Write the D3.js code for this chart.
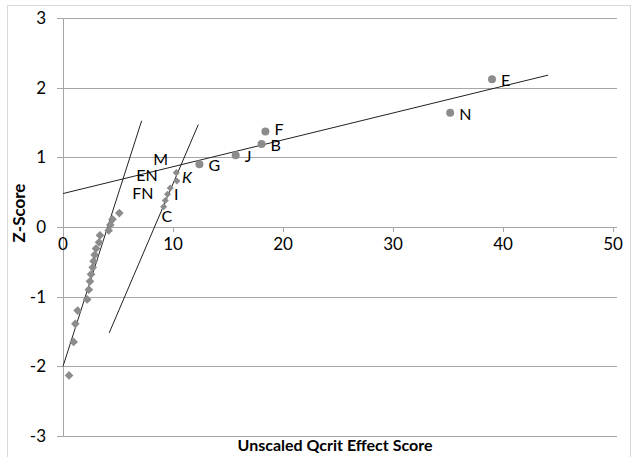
<!DOCTYPE html>
<html>
<head>
<meta charset="utf-8">
<script src="https://cdn.jsdelivr.net/npm/d3@7"></script>
<style>
body { margin: 0; background: #fff; }
text { font-family: Lato, "Open Sans", sans-serif; }
</style>
</head>
<body>
<div id="chart"></div>
<script>
// tick values
const yTicks = [-3, -2, -1, 0, 1, 2, 3];
const xTicks = [0, 10, 20, 30, 40, 50];

// left cluster (diamonds)
const diamondX = [0.55, 0.97, 1.12, 1.33, 2.2, 2.35, 2.45, 2.55, 2.7, 2.78, 2.88, 3.0, 3.28, 3.36, 4.15, 4.3, 4.5, 5.12];
const diamondY = [-2.13, -1.65, -1.39, -1.2, -1.04, -0.9, -0.78, -0.68, -0.58, -0.49, -0.4, -0.31, -0.22, -0.12, -0.05, 0.03, 0.11, 0.2];

// small cluster along the second steep line
const clusterX = [10.3, 10.35, 9.75, 9.5, 9.3, 9.15];
const clusterY = [0.78, 0.66, 0.56, 0.47, 0.38, 0.29];

// named points
const namedPoints = ["E", "N", "F", "B", "J", "G"];
const namedX = [39.0, 35.2, 18.4, 18.05, 15.7, 12.4];
const namedY = [2.12, 1.64, 1.37, 1.19, 1.03, 0.9];

// labels placed next to the cluster
const freeLabels = ["M", "EN", "FN", "K", "I", "C"];
const freeX = [8.2, 6.65, 6.3, 10.82, 10.1, 8.95];
const freeY = [0.89, 0.66, 0.4, 0.63, 0.39, 0.07];

// trend lines (x0, y0, x1, y1)
const trendX0 = [0, 4.2, 0];
const trendY0 = [-2, -1.52, 0.48];
const trendX1 = [7.15, 12.3, 44.1];
const trendY1 = [1.525, 1.47, 2.18];

const width = 632;
const height = 457;

const svg = d3.select("#chart")
    .append("svg")
    .attr("width", width)
    .attr("height", height);

// outer frame
svg.append("rect")
    .attr("x", 7.5)
    .attr("y", 5.5)
    .attr("width", 623)
    .attr("height", 460)
    .attr("fill", "#fff")
    .attr("stroke", "#d9d9d9");

const x = d3.scaleLinear().domain([0, 50]).range([63, 613]);
const y = d3.scaleLinear().domain([-3, 3]).range([436, 18]);

const gridColor = "#a6a6a6";

// horizontal gridlines + y ticks
svg.append("g")
    .selectAll("line")
    .data(yTicks)
    .enter().append("line")
    .attr("x1", x(0) - 6)
    .attr("x2", x(50) + 4)
    .attr("y1", d => Math.round(y(d)) + 0.5)
    .attr("y2", d => Math.round(y(d)) + 0.5)
    .attr("stroke", gridColor);

// Y axis
svg.append("line")
    .attr("x1", Math.round(x(0)) + 0.5)
    .attr("x2", Math.round(x(0)) + 0.5)
    .attr("y1", y(3))
    .attr("y2", y(-3))
    .attr("stroke", gridColor);

// x ticks on the zero line
svg.append("g")
    .selectAll("line")
    .data(xTicks)
    .enter().append("line")
    .attr("x1", d => Math.round(x(d)) + 0.5)
    .attr("x2", d => Math.round(x(d)) + 0.5)
    .attr("y1", y(0))
    .attr("y2", y(0) + 5)
    .attr("stroke", gridColor);

// y tick labels
svg.append("g")
    .selectAll("text")
    .data(yTicks)
    .enter().append("text")
    .attr("x", 46)
    .attr("y", d => y(d) + 6)
    .attr("text-anchor", "end")
    .style("font-size", "17px")
    .text(d => d);

// x tick labels
svg.append("g")
    .selectAll("text")
    .data(xTicks)
    .enter().append("text")
    .attr("x", d => x(d))
    .attr("y", y(0) + 23)
    .attr("text-anchor", "middle")
    .style("font-size", "17px")
    .text(d => d);

// axis titles
svg.append("text")
    .attr("x", 335)
    .attr("y", 451)
    .attr("text-anchor", "middle")
    .style("font-size", "16px")
    .style("font-weight", "bold")
    .text("Unscaled Qcrit Effect Score");

svg.append("text")
    .attr("transform", "translate(25,213) rotate(-90)")
    .attr("text-anchor", "middle")
    .style("font-size", "17px")
    .style("font-weight", "bold")
    .text("Z-Score");

// trend lines
svg.append("g")
    .selectAll("line")
    .data(trendX0)
    .enter().append("line")
    .attr("x1", (d, i) => x(trendX0[i]))
    .attr("y1", (d, i) => y(trendY0[i]))
    .attr("x2", (d, i) => x(trendX1[i]))
    .attr("y2", (d, i) => y(trendY1[i]))
    .attr("stroke", "#222")
    .attr("stroke-width", 1);

const markColor = "#8c8c8c";

// diamonds
svg.append("g")
    .selectAll("path")
    .data(diamondX)
    .enter().append("path")
    .attr("d", d3.symbol(d3.symbolDiamond2, 48))
    .attr("transform", (d, i) => `translate(${x(d)},${y(diamondY[i])})`)
    .attr("fill", markColor);

// cluster points
svg.append("g")
    .selectAll("path")
    .data(clusterX)
    .enter().append("path")
    .attr("d", d3.symbol(d3.symbolDiamond2, 32))
    .attr("transform", (d, i) => `translate(${x(d)},${y(clusterY[i])})`)
    .attr("fill", markColor);

// named circles
svg.append("g")
    .selectAll("circle")
    .data(namedX)
    .enter().append("circle")
    .attr("cx", d => x(d))
    .attr("cy", (d, i) => y(namedY[i]))
    .attr("r", 4)
    .attr("fill", markColor);

svg.append("g")
    .selectAll("text")
    .data(namedPoints)
    .enter().append("text")
    .attr("x", (d, i) => x(namedX[i]) + 9)
    .attr("y", (d, i) => y(namedY[i]) + (d === "F" ? 3 : 7))
    .style("font-size", "16px")
    .text(d => d);

// free labels
svg.append("g")
    .selectAll("text")
    .data(freeLabels)
    .enter().append("text")
    .attr("x", (d, i) => x(freeX[i]))
    .attr("y", (d, i) => y(freeY[i]))
    .style("font-size", "16px")
    .style("font-style", d => d === "K" ? "italic" : "normal")
    .text(d => d);
</script>
</body>
</html>
